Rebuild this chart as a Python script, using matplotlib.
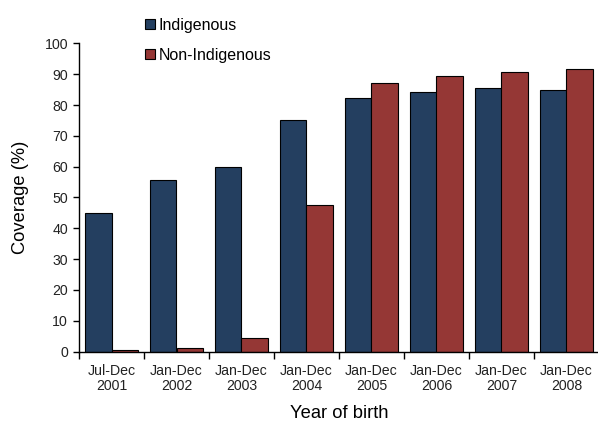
import matplotlib
matplotlib.use("Agg")
import matplotlib.pyplot as plt
import numpy as np
from matplotlib.patches import Patch

plt.rcParams['font.family'] = ['Liberation Sans', 'DejaVu Sans']

categories = ["Jul-Dec\n2001", "Jan-Dec\n2002", "Jan-Dec\n2003", "Jan-Dec\n2004",
              "Jan-Dec\n2005", "Jan-Dec\n2006", "Jan-Dec\n2007", "Jan-Dec\n2008"]
indigenous = [45.1, 55.6, 60.0, 75.3, 82.2, 84.1, 85.4, 84.9]
non_indigenous = [0.6, 1.1, 4.4, 47.7, 87.1, 89.3, 90.8, 91.8]

c_ind = "#243F60"
c_non = "#953735"

fig = plt.figure(figsize=(5.98, 4.23), dpi=100)
ax = fig.add_axes([79/598, (423-351.5)/423, 520/598, 308/423])

x = np.arange(len(categories))
w = 0.408
ax.bar(x - w/2, indigenous, w, color=c_ind, edgecolor="black", linewidth=0.8)
ax.bar(x + w/2, non_indigenous, w, color=c_non, edgecolor="black", linewidth=0.8)

ax.set_xlim(-0.5, len(categories) - 0.5)
ax.set_ylim(0, 100)
ax.set_yticks(range(0, 101, 10))
ax.set_xticks(x)
ax.set_xticklabels(categories, fontsize=10.2, color="#222222", linespacing=1.05)
ax.set_xticks(np.arange(-0.5, len(categories) - 0.4, 1), minor=True)
ax.tick_params(axis="x", which="major", length=0, pad=9)
ax.tick_params(axis="x", which="minor", length=5, width=1, direction="out")
ax.tick_params(axis="y", length=4, width=1, direction="out", labelsize=10.2, labelcolor="#222222", pad=4)

for s in ["top", "right"]:
    ax.spines[s].set_visible(False)
for s in ["left", "bottom"]:
    ax.spines[s].set_linewidth(1)

ax.set_ylabel("Coverage (%)", fontsize=13.2, labelpad=11)
ax.set_xlabel("Year of birth", fontsize=13.2, labelpad=9)

handles = [Patch(facecolor=c_ind, edgecolor="black", linewidth=0.8, label="Indigenous"),
           Patch(facecolor=c_non, edgecolor="black", linewidth=0.8, label="Non-Indigenous")]
fig.legend(handles=handles, loc="upper left", bbox_to_anchor=(145/598, 1 - 18/423),
           frameon=False, fontsize=11.5, handlelength=0.6, handleheight=0.6,
           handletextpad=0.25, labelspacing=0.92, borderpad=0, borderaxespad=0)

fig.savefig("out.png", dpi=100)
